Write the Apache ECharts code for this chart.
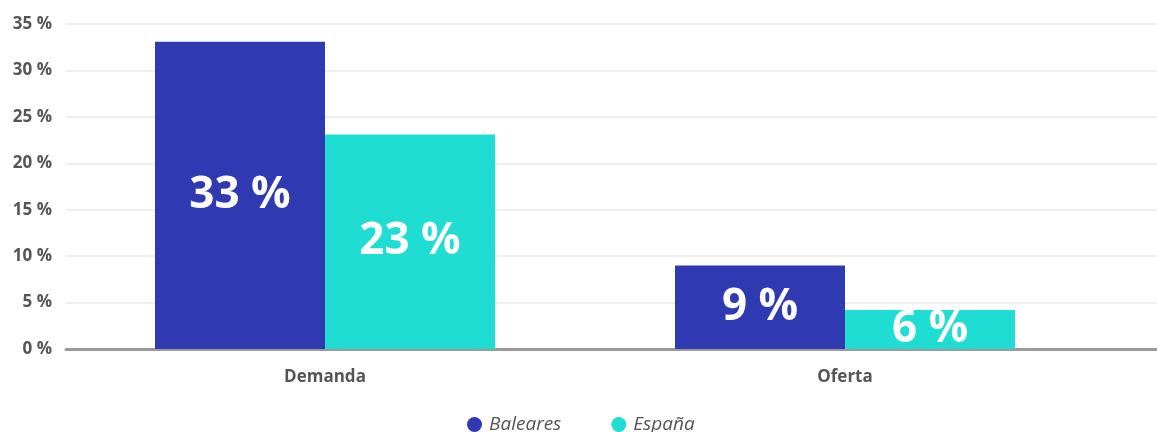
<!DOCTYPE html>
<html>
<head>
<meta charset="utf-8">
<script src="https://cdn.jsdelivr.net/npm/echarts@6/dist/echarts.min.js"></script>
<style>
  html, body { margin: 0; padding: 0; background: #fff; }
  #chart { width: 1157px; height: 432px; }
</style>
</head>
<body>
<div id="chart"></div>
<script>
// datos
var categorias = ['Demanda', 'Oferta'];
var baleares = [33.1, 9.0];
var espana = [23.1, 4.2];
var etiquetasBaleares = ['33 %', '9 %'];
var etiquetasEspana = ['23 %', '6 %'];
var ticksY = [0, 5, 10, 15, 20, 25, 30, 35];

var chart = echarts.init(document.getElementById('chart'));

var fuente = "'Open Sans', 'DejaVu Sans', sans-serif";

function etiqueta(lista) {
  return {
    show: true,
    position: 'inside',
    color: '#fff',
    fontFamily: fuente,
    fontWeight: 'bold',
    fontSize: 44,
    formatter: function (p) { return lista[p.dataIndex]; }
  };
}

var option = {
  animation: false,
  legend: {
    bottom: -7,
    left: 462,
    icon: 'circle',
    itemWidth: 15,
    itemHeight: 15,
    itemGap: 50,
    textStyle: {
      color: '#555',
      fontFamily: fuente,
      fontStyle: 'italic',
      fontSize: 19,
      padding: [0, 0, 0, 2]
    },
    data: ['Baleares', 'España']
  },
  grid: [
    // rejilla de fondo (lineas y eje)
    { left: 66, right: 0, top: 24, bottom: 83 },
    // barras
    { left: 65, width: 1040, top: 24, bottom: 83 }
  ],
  xAxis: [
    {
      gridIndex: 0,
      type: 'category',
      data: categorias,
      axisTick: { show: false },
      axisLabel: { show: false },
      axisLine: { lineStyle: { color: '#9a9a9a', width: 3 } }
    },
    {
      gridIndex: 1,
      type: 'category',
      data: categorias,
      axisTick: { show: false },
      axisLine: { show: false },
      axisLabel: {
        color: '#555',
        fontFamily: fuente,
        fontWeight: 'bold',
        fontSize: 17,
        margin: 20
      }
    }
  ],
  yAxis: [
    {
      gridIndex: 0,
      type: 'value',
      min: ticksY[0],
      max: ticksY[ticksY.length - 1],
      interval: 5,
      axisLine: { show: false },
      axisTick: { show: false },
      splitLine: { lineStyle: { color: '#efefef', width: 2 } },
      axisLabel: {
        color: '#555',
        fontFamily: fuente,
        fontWeight: 'bold',
        fontSize: 17,
        margin: 14,
        formatter: '{value} %'
      }
    },
    {
      gridIndex: 1,
      type: 'value',
      min: ticksY[0],
      max: ticksY[ticksY.length - 1],
      show: false
    }
  ],
  series: [
    {
      name: 'Baleares',
      type: 'bar',
      xAxisIndex: 1,
      yAxisIndex: 1,
      barWidth: 170,
      barGap: 0,
      itemStyle: { color: '#2f39b1' },
      label: etiqueta(etiquetasBaleares),
      data: baleares
    },
    {
      name: 'España',
      type: 'bar',
      xAxisIndex: 1,
      yAxisIndex: 1,
      barWidth: 170,
      barGap: 0,
      itemStyle: { color: '#1fddd2' },
      label: etiqueta(etiquetasEspana),
      data: espana
    }
  ]
};

chart.setOption(option);
</script>
</body>
</html>
